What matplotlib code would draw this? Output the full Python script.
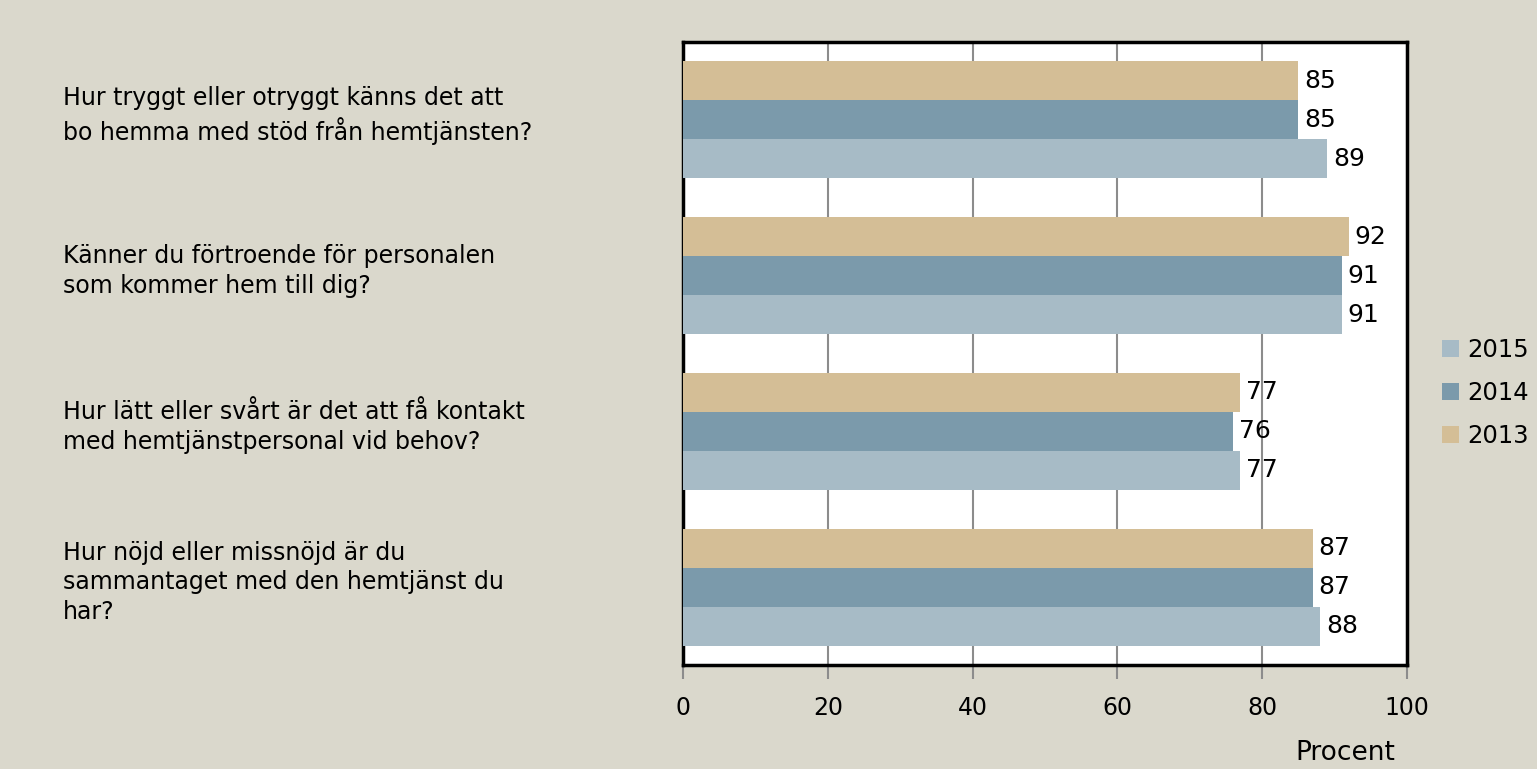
import matplotlib
matplotlib.use("Agg")
import matplotlib.pyplot as plt
import numpy as np

questions = [
    "Hur tryggt eller otryggt känns det att\nbo hemma med stöd från hemtjänsten?",
    "Känner du förtroende för personalen\nsom kommer hem till dig?",
    "Hur lätt eller svårt är det att få kontakt\nmed hemtjänstpersonal vid behov?",
    "Hur nöjd eller missnöjd är du\nsammantaget med den hemtjänst du\nhar?",
]
years = ["2015", "2014", "2013"]
v2015 = [89, 91, 77, 88]
v2014 = [85, 91, 76, 87]
v2013 = [85, 92, 77, 87]

bg = "#dad8cc"
colors = {"2015": "#a7bbc6", "2014": "#7b9aab", "2013": "#d4be96"}

plt.rcParams['font.family'] = ['DejaVu Sans']

fig = plt.figure(figsize=(15.37, 7.69), dpi=100, facecolor=bg)
ax = fig.add_axes([683/1537, 1-665/769, 724/1537, 623/769])
ax.set_facecolor("white")

y = np.arange(len(questions))[::-1].astype(float)
h = 0.25
offsets = {"2013": h, "2014": 0.0, "2015": -h}
series = {"2015": v2015, "2014": v2014, "2013": v2013}

for yr in years:
    bars = ax.barh(y + offsets[yr], series[yr], height=h, color=colors[yr],
                   label=yr, zorder=3)
    for b, v in zip(bars, series[yr]):
        ax.text(b.get_width() + 0.8, b.get_y() + b.get_height()/2, str(v),
                va='center', ha='left', fontsize=18, zorder=4)

ax.set_xlim(0, 100)
ax.set_ylim(-0.5, 3.5)
ax.set_xticks([0, 20, 40, 60, 80, 100])
ax.tick_params(axis='x', direction='out', length=10, width=1.5, color='#8c8c8c',
               labelsize=17, pad=12)
ax.set_yticks([])
ax.grid(axis='x', color='#8c8c8c', lw=1.5, zorder=1)
for s in ax.spines.values():
    s.set_color('black')
    s.set_linewidth(2.5)

ax.set_xlabel("Procent", fontsize=19)
ax.xaxis.set_label_coords(0.915, -0.12)

for q, yy in zip(questions, y):
    ax.text(-0.857, yy + 0.03, q, transform=ax.get_yaxis_transform(),
            ha='left', va='center', fontsize=17, linespacing=1.3)

handles, labels = ax.get_legend_handles_labels()
leg = fig.legend(handles, labels, loc='center left', bbox_to_anchor=(1442/1537, 1-393/769),
                 frameon=False, fontsize=17.5, handlelength=0.7, handleheight=0.7,
                 handletextpad=0.35, labelspacing=0.8, borderpad=0, borderaxespad=0)

fig.savefig("out.png", dpi=100, facecolor=bg)
